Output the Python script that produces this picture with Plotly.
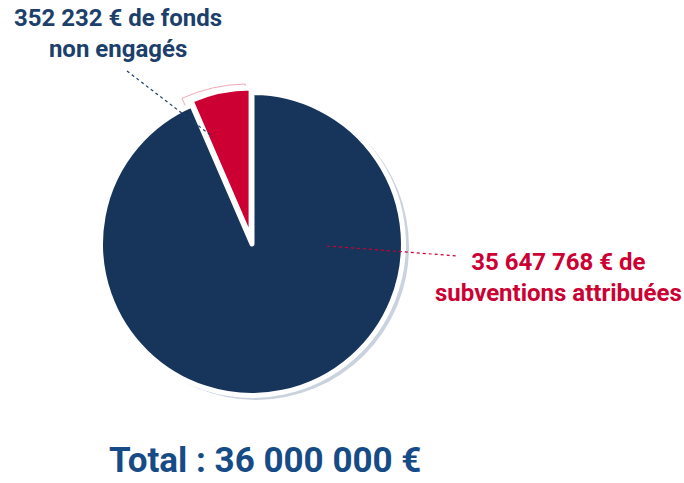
import plotly.graph_objects as go

# slice shares as drawn (the picture exaggerates the small slice)
categories = ["Subventions attribuées", "Fonds non engagés"]
slice_share = [93.5, 6.5]
amounts = ["35 647 768 €", "352 232 €"]
total_label = "Total : 36 000 000 €"

NAVY = "#17345a"
RED = "#cc0033"
TEXT_BLUE = "#1c3f6b"
TOTAL_BLUE = "#164b86"

W, H = 684, 483


def dom(cx, cy, r):
    return dict(x=[(cx - r) / W, (cx + r) / W], y=[1 - (cy + r) / H, 1 - (cy - r) / H])


def px_x(x):
    return x / W


def px_y(y):
    return 1 - y / H


fig = go.Figure()

# soft shadow behind the pie
fig.add_trace(go.Pie(
    values=[1], labels=["shadow"], sort=False,
    marker=dict(colors=["#c9d2dd"], line=dict(width=0)),
    textinfo="none", hoverinfo="skip", showlegend=False,
    domain=dom(256, 247, 153),
))

# ghost outline of the small slice
fig.add_trace(go.Pie(
    values=slice_share, labels=categories, sort=False, direction="clockwise",
    rotation=-1,
    marker=dict(colors=["rgba(0,0,0,0)", "rgba(0,0,0,0)"],
                line=dict(color=["rgba(0,0,0,0)", "#f4a7b8"], width=1)),
    textinfo="none", hoverinfo="skip", showlegend=False,
    domain=dom(248, 244, 160),
))

fig.add_trace(go.Pie(
    values=slice_share, labels=categories, sort=False, direction="clockwise",
    rotation=0,
    pull=[0, 0.03],
    marker=dict(colors=[NAVY, RED], line=dict(color="white", width=5)),
    textinfo="none", showlegend=False,
    domain=dom(252, 244, 156),
))

font = "Roboto, Arial, sans-serif"

fig.add_annotation(
    x=px_x(118), y=px_y(33), xref="paper", yref="paper",
    text=f"<b>{amounts[1]} de fonds<br>non engagés</b>",
    showarrow=False, font=dict(family=font, size=24, color=TEXT_BLUE),
    align="center", xanchor="center", yanchor="middle",
)
fig.add_annotation(
    x=px_x(558), y=px_y(277), xref="paper", yref="paper",
    text=f"<b>{amounts[0]} de<br>subventions attribuées</b>",
    showarrow=False, font=dict(family=font, size=24, color=RED),
    align="center", xanchor="center", yanchor="middle",
)
fig.add_annotation(
    x=px_x(265), y=0, xref="paper", yref="paper",
    text=f"<b>{total_label}</b>",
    showarrow=False, font=dict(family=font, size=35, color=TOTAL_BLUE),
    xanchor="center", yanchor="bottom",
)

# dotted leader lines
fig.add_shape(type="line", x0=px_x(127), y0=px_y(71), x1=px_x(213), y1=px_y(137),
              xref="paper", yref="paper",
              line=dict(color=TEXT_BLUE, width=1.2, dash="dot"))
fig.add_shape(type="line", x0=px_x(327), y0=px_y(246), x1=px_x(458), y1=px_y(256),
              xref="paper", yref="paper",
              line=dict(color=RED, width=1.2, dash="dot"))

fig.update_layout(
    width=W, height=H,
    margin=dict(l=0, r=0, t=0, b=0),
    paper_bgcolor="white", plot_bgcolor="rgba(0,0,0,0)",
    showlegend=False,
)

# page has a default 8px body margin; remove it so the figure fills the window
fig.write_html("out.html", config={"displayModeBar": False},
               post_script="document.body.style.margin='0';")
